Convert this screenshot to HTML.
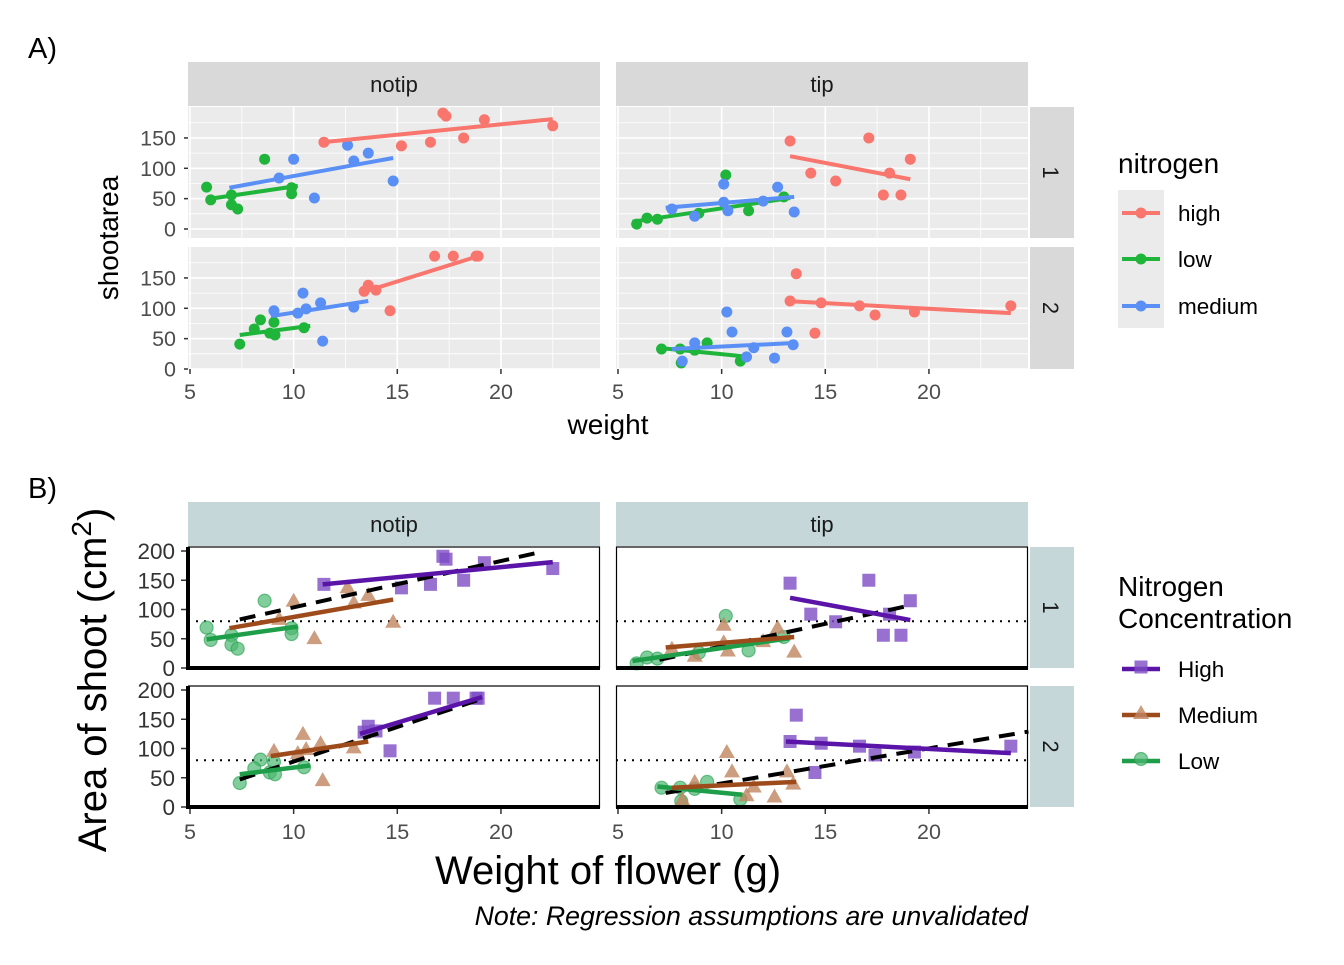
<!DOCTYPE html>
<html><head><meta charset="utf-8"><style>
body{margin:0;background:#fff;}
svg text{font-family:"Liberation Sans",sans-serif;}
</style></head><body>
<svg id="s" width="1344" height="960" xmlns="http://www.w3.org/2000/svg"></svg>
<script>
const S=document.getElementById('s');let h='';
const R='#F8766D',G='#1fb53a',B='#5a8ff5';
const PU='#5a14a8',BR='#9e4b1c',GR='#1f9e4a';
const PUf='#7d4cc4',BRf='#c08560',GRf='#4cb870';
const D={
 '0_0':{h:[[11.46,143],[17.2,191],[17.35,186],[19.2,180],[22.5,170],[15.2,137],[16.6,143],[18.2,150]],
  m:[[12.6,138],[13.6,125],[12.9,112],[10,115],[9.3,84],[11,51],[14.8,79]],
  l:[[8.6,115],[5.8,69],[6.0,48],[7.0,56],[7.0,40],[7.3,33],[9.9,68],[9.9,58]],
  hl:[11.4,143,22.5,181],ml:[6.9,68,14.8,117],ll:[5.8,49,10.2,71],dl:[7.4,83,21.9,198]},
 '0_1':{h:[[13.3,145],[17.1,150],[19.1,115],[14.3,92],[15.5,79],[18.1,92],[17.8,56],[18.65,56]],
  m:[[7.6,33],[10.1,74],[10.1,44],[10.3,30],[8.7,21],[12.0,46],[12.7,69],[13.5,28]],
  l:[[5.9,8],[6.4,18],[6.9,16],[10.2,89],[8.9,26],[11.3,30],[13.0,53]],
  hl:[13.3,120,19.1,82],ml:[7.3,35,13.5,53],ll:[5.7,12,13.3,51],dl:[7.0,14,19.1,107]},
 '1_0':{h:[[16.8,186],[17.7,186],[18.8,186],[18.9,186],[13.6,138],[13.4,128],[13.97,130],[14.65,96]],
  m:[[9.05,96],[10.45,125],[10.6,99],[11.3,109],[12.9,102],[10.2,92],[11.4,46]],
  l:[[7.4,41],[8.4,81],[8.1,66],[9.05,77],[8.85,59],[9.1,56],[10.5,68]],
  hl:[13.2,125,19.1,188],ml:[8.9,87,13.6,112],ll:[7.4,56,10.8,71],dl:[7.4,47,19,184]},
 '1_1':{h:[[13.6,157],[13.3,112],[14.8,109],[16.65,104],[17.4,89],[19.3,94],[23.95,104],[14.5,59]],
  m:[[10.25,94],[10.5,61],[8.7,43],[8.1,13],[11.2,20],[11.55,35],[12.55,18],[13.15,61],[13.45,40]],
  l:[[7.1,33],[8,33],[9.3,43],[8.7,31],[8.05,10],[10.9,13]],
  hl:[13.1,112,23.95,92],ml:[7.6,33,13.6,43],ll:[6.9,35,11.0,21],dl:[7.3,24,24.8,129]}
};
const px=(t,x)=>(t?618:190)+(x-5)*20.73;
h+='<text x="28" y="58" font-size="29">A)</text>';
const Ay0=[229,369],Ak=0.607;
const pyA=(b,y)=>Ay0[b]-y*Ak;
const Arow=[[107,238],[247,369]];
for(let t=0;t<2;t++){
 const x0=t?616:188;
 h+=`<rect x="${x0}" y="62" width="412" height="44" fill="#D9D9D9"/><text x="${x0+206}" y="92" font-size="22" text-anchor="middle" fill="#1a1a1a">${t?'tip':'notip'}</text>`;
 for(let b=0;b<2;b++){
  const [y0,y1]=Arow[b];
  h+=`<rect x="${x0}" y="${y0}" width="412" height="${y1-y0}" fill="#EBEBEB"/>`;
  for(let v=7.5;v<=25;v+=5){const X=px(t,v);if(X>x0&&X<x0+412)h+=`<line x1="${X}" x2="${X}" y1="${y0}" y2="${y1}" stroke="#fff" stroke-width="0.8"/>`;}
  for(let v=25;v<=175;v+=50){const Y=pyA(b,v);if(Y>y0)h+=`<line x1="${x0}" x2="${x0+412}" y1="${Y}" y2="${Y}" stroke="#fff" stroke-width="0.8"/>`;}
  for(let v=5;v<=25;v+=5){const X=px(t,v);if(X>=x0&&X<x0+412)h+=`<line x1="${X}" x2="${X}" y1="${y0}" y2="${y1}" stroke="#fff" stroke-width="1.6"/>`;}
  for(let v=0;v<=150;v+=50){const Y=pyA(b,v);h+=`<line x1="${x0}" x2="${x0+412}" y1="${Y}" y2="${Y}" stroke="#fff" stroke-width="1.6"/>`;}
  const d=D[b+'_'+t];
  [['l',G,'ll'],['m',B,'ml'],['h',R,'hl']].forEach(([k,c,lk])=>{
   d[k].forEach(p=>h+=`<circle cx="${px(t,p[0])}" cy="${pyA(b,p[1])}" r="5.5" fill="${c}"/>`);
   const L=d[lk];h+=`<line x1="${px(t,L[0])}" y1="${pyA(b,L[1])}" x2="${px(t,L[2])}" y2="${pyA(b,L[3])}" stroke="${c}" stroke-width="4"/>`;
  });
  if(t==0)for(let v=0;v<=150;v+=50){const Y=pyA(b,v);h+=`<line x1="184" x2="188" y1="${Y}" y2="${Y}" stroke="#333" stroke-width="1.5"/><text x="176" y="${Y+7.5}" font-size="21.5" text-anchor="end" fill="#4d4d4d">${v}</text>`;}
  if(t==1){h+=`<rect x="1030" y="${y0}" width="44" height="${y1-y0}" fill="#D9D9D9"/><text transform="translate(1043,${(y0+y1)/2}) rotate(90)" font-size="22" text-anchor="middle" fill="#1a1a1a">${b+1}</text>`;}
 }
 for(let v=5;v<=20;v+=5){const X=px(t,v);h+=`<line x1="${X}" x2="${X}" y1="369" y2="374" stroke="#333" stroke-width="1.5"/><text x="${X}" y="399" font-size="21.5" text-anchor="middle" fill="#4d4d4d">${v}</text>`;}
}
h+='<text x="608" y="434" font-size="28" text-anchor="middle">weight</text>';
h+='<text transform="translate(118,238) rotate(-90)" font-size="28" text-anchor="middle">shootarea</text>';
h+='<text x="1118" y="173" font-size="28">nitrogen</text><rect x="1118" y="190" width="46" height="138" fill="#EBEBEB"/>';
[['high',R,213],['low',G,259],['medium',B,306]].forEach(([n,c,y])=>{h+=`<line x1="1122" x2="1160" y1="${y}" y2="${y}" stroke="${c}" stroke-width="4"/><circle cx="1141" cy="${y}" r="5.5" fill="${c}"/><text x="1178" y="${y+8}" font-size="22.5">${n}</text>`;});
h+='<text x="28" y="498" font-size="29">B)</text>';
const By0=[668,807],Bk=0.585;
const pyB=(b,y)=>By0[b]-y*Bk;
const Brow=[[547,668],[686,807]];
const sym=(k,x,y)=>{
 if(k=='h')return `<rect x="${x-6.5}" y="${y-6.5}" width="13" height="13" fill="${PUf}" fill-opacity="0.8"/>`;
 if(k=='m')return `<polygon points="${x},${y-8} ${x+8},${y+6} ${x-8},${y+6}" fill="${BRf}" fill-opacity="0.8"/>`;
 return `<circle cx="${x}" cy="${y}" r="6.5" fill="${GRf}" fill-opacity="0.7" stroke="${GR}" stroke-opacity="0.6" stroke-width="1.2"/>`;
};
for(let t=0;t<2;t++){
 const x0=t?616:188;
 h+=`<rect x="${x0}" y="502" width="412" height="44" fill="#C5D7D8"/><text x="${x0+206}" y="532" font-size="22" text-anchor="middle" fill="#1a1a1a">${t?'tip':'notip'}</text>`;
 for(let b=0;b<2;b++){
  const [y0,y1]=Brow[b];
  h+=`<rect x="${x0+0.5}" y="${y0}" width="411" height="${y1-y0}" fill="#fff" stroke="#000" stroke-width="1.2"/>`;
  h+=`<line x1="${x0}" x2="${x0+412}" y1="${pyB(b,80)}" y2="${pyB(b,80)}" stroke="#000" stroke-width="2" stroke-dasharray="2,6"/>`;
  const d=D[b+'_'+t];
  ['l','m','h'].forEach(k=>d[k].forEach(p=>h+=sym(k,px(t,p[0]),pyB(b,p[1]))));
  let L=d.dl;h+=`<line x1="${px(t,L[0])}" y1="${pyB(b,L[1])}" x2="${px(t,L[2])}" y2="${pyB(b,L[3])}" stroke="#000" stroke-width="4" stroke-dasharray="16,10"/>`;
  [['ll',GR],['ml',BR],['hl',PU]].forEach(([lk,c])=>{L=d[lk];h+=`<line x1="${px(t,L[0])}" y1="${pyB(b,L[1])}" x2="${px(t,L[2])}" y2="${pyB(b,L[3])}" stroke="${c}" stroke-width="4.5"/>`;});
  h+=`<line x1="${x0}" x2="${x0+412}" y1="${y1}" y2="${y1}" stroke="#000" stroke-width="4"/>`;
  if(t==0){h+=`<line x1="188" x2="188" y1="${y0}" y2="${y1+2}" stroke="#000" stroke-width="4"/>`;
   for(let v=0;v<=200;v+=50){const Y=pyB(b,v);h+=`<line x1="181" x2="186" y1="${Y}" y2="${Y}" stroke="#333" stroke-width="1.5"/><text x="175" y="${Y+8}" font-size="22.5" text-anchor="end" fill="#333">${v}</text>`;}}
  if(t==1){h+=`<rect x="1030" y="${y0}" width="44" height="${y1-y0}" fill="#C5D7D8"/><text transform="translate(1043,${(y0+y1)/2}) rotate(90)" font-size="22" text-anchor="middle" fill="#1a1a1a">${b+1}</text>`;}
 }
 for(let v=5;v<=20;v+=5){const X=px(t,v);h+=`<line x1="${X}" x2="${X}" y1="809" y2="814" stroke="#333" stroke-width="1.5"/><text x="${X}" y="839" font-size="21.5" text-anchor="middle" fill="#4d4d4d">${v}</text>`;}
}
h+='<text x="608" y="884" font-size="40" text-anchor="middle">Weight of flower (g)</text>';
h+='<text transform="translate(106,680) rotate(-90)" font-size="40" text-anchor="middle">Area of shoot (cm<tspan dy="-15" font-size="28">2</tspan><tspan dy="15">)</tspan></text>';
h+='<text x="1028" y="925" font-size="26.7" font-style="italic" text-anchor="end">Note: Regression assumptions are unvalidated</text>';
h+='<text x="1118" y="596" font-size="28">Nitrogen</text><text x="1118" y="628" font-size="28">Concentration</text>';
[['High',PU,'h',669],['Medium',BR,'m',715],['Low',GR,'l',761]].forEach(([n,c,k,y])=>{h+=`<line x1="1122" x2="1160" y1="${y}" y2="${y}" stroke="${c}" stroke-width="4.5"/>`+sym(k,1141,y-2)+`<text x="1178" y="${y+8}" font-size="22.5">${n}</text>`;});
S.innerHTML=h;
</script>
</body></html>
